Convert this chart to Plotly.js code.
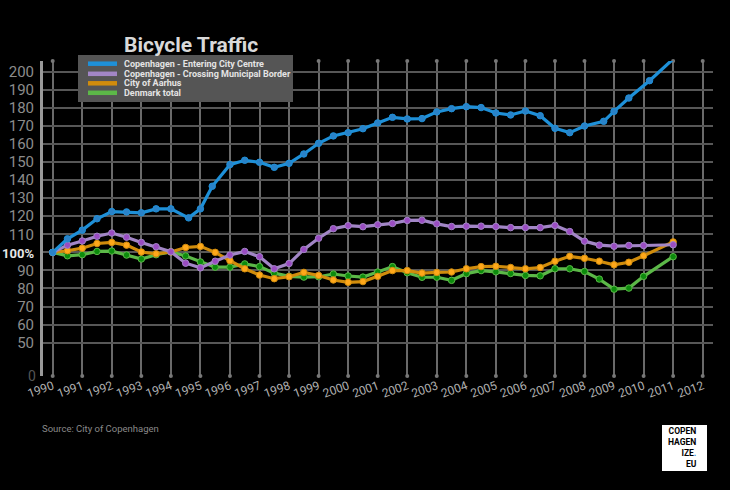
<!DOCTYPE html>
<html>
<head>
<meta charset="utf-8">
<script src="https://cdn.plot.ly/plotly-3.0.1.min.js"></script>
<style>
  html, body { margin: 0; padding: 0; background: #000; }
  #plot { width: 730px; height: 490px; }
</style>
</head>
<body>
<div id="plot"></div>
<script>
// half-year readings, 1990 = 100
var halfYears = [1990, 1990.5, 1991, 1991.5, 1992, 1992.5, 1993, 1993.5, 1994, 1994.5,
  1995, 1995.5, 1996, 1996.5, 1997, 1997.5, 1998, 1998.5, 1999, 1999.5,
  2000, 2000.5, 2001, 2001.5, 2002, 2002.5, 2003, 2003.5, 2004, 2004.5,
  2005, 2005.5, 2006, 2006.5, 2007, 2007.5, 2008, 2008.5, 2009, 2009.5,
  2010, 2011];
var centreYears = [1990, 1990.5, 1991, 1991.5, 1992, 1992.5, 1993, 1993.5, 1994, 1994.6,
  1995, 1995.4, 1996, 1996.5, 1997, 1997.5, 1998, 1998.5, 1999, 1999.5,
  2000, 2000.5, 2001, 2001.5, 2002, 2002.5, 2003, 2003.5, 2004, 2004.5,
  2005, 2005.5, 2006, 2006.5, 2007, 2007.5, 2008, 2008.65, 2009, 2009.5,
  2010.2, 2011];

var centre = [100, 107.5, 112.3, 118.6, 122.6, 122.4, 121.9, 124.1, 124.1, 119.1,
  124.1, 136.6, 148.6, 151, 149.9, 147.1, 149.3, 154.5, 160.4, 164.5,
  166.3, 168.5, 171.7, 174.8, 173.9, 174.1, 177.8, 179.6, 180.7, 180.2,
  177.2, 176.1, 178.3, 175.7, 168.7, 166.3, 170, 172.6, 178.1, 185.5,
  195.1, 207.1];
var border = [100, 104, 106.3, 108.9, 110.7, 108.4, 105.5, 103.1, 100.3, 94,
  91.4, 95.1, 98.5, 100.5, 97.6, 90.9, 93.8, 101.6, 107.8, 113.1,
  114.8, 114.2, 115.3, 116, 117.7, 117.8, 115.8, 114.3, 114.5, 114.5,
  114.3, 113.7, 113.7, 113.7, 114.9, 111.5, 106.2, 104, 103.4, 103.8,
  103.8, 104.2];
var aarhus = [100, 100.9, 102.3, 104.9, 105.5, 104, 100.2, 99.2, 100.2, 102.7,
  103.3, 100, 95.4, 90.9, 87.4, 85.4, 86.5, 88.9, 87.2, 84.7,
  83.4, 83.8, 86.7, 89.9, 89.9, 88.5, 88.9, 89.1, 90.9, 92.1,
  92.3, 91.6, 90.9, 91.6, 95.1, 97.8, 96.7, 95.1, 93.1, 94.5,
  98.1, 105.8];
var denmark = [100, 98.1, 98.7, 100.5, 100.7, 98.5, 96.3, 98.7, 100.3, 98,
  94.7, 91.8, 91.8, 93.6, 92.1, 88.5, 86.7, 86.3, 86.5, 88,
  86.9, 86.3, 89.1, 92.1, 88.7, 86.2, 86.2, 84.5, 88.2, 89.9,
  89.2, 88.3, 87.2, 87, 90.9, 90.9, 89.4, 85.2, 79.6, 80.2,
  86.7, 97.6];

var seriesNames = ['Copenhagen - Entering City Centre', 'Copenhagen - Crossing Municipal Border',
  'City of Aarhus', 'Denmark total'];
var lineColors = ['#1e90d8', '#a286c6', '#d08c0c', '#5cb848'];
var dotColors = ['#2a82c8', '#9a4cc2', '#ffa81a', '#0c8c0c'];

var tickYears = [1990, 1991, 1992, 1993, 1994, 1995, 1996, 1997, 1998, 1999, 2000, 2001,
  2002, 2003, 2004, 2005, 2006, 2007, 2008, 2009, 2010, 2011, 2012];
var yTicks = [50, 60, 70, 80, 90, 100, 110, 120, 130, 140, 150, 160, 170, 180, 190, 200];

var yMin = 31.5, yMax = 206;

function line(x, y, i) {
  return {
    x: x, y: y, name: seriesNames[i], type: 'scatter', mode: 'lines+markers',
    line: {color: lineColors[i], width: 3.2},
    marker: {color: dotColors[i], size: 6.5, line: {color: lineColors[i], width: 1}},
    cliponaxis: false, showlegend: false, hoverinfo: 'x+y'
  };
}

// little dots at both ends of each vertical grid line
var gridDots = {
  x: tickYears.concat(tickYears),
  y: tickYears.map(function () { return yMax; }).concat(tickYears.map(function () { return yMin; })),
  type: 'scatter', mode: 'markers', marker: {color: '#777', size: 4},
  cliponaxis: false, showlegend: false, hoverinfo: 'skip'
};

var data = [gridDots, line(halfYears, denmark, 3), line(halfYears, aarhus, 2),
  line(halfYears, border, 1), line(centreYears, centre, 0)];

var yText = yTicks.map(function (v) {
  return v === 100 ? '<span style="color:#e6e6e6;font-weight:bold;font-size:13px">100%</span>' : String(v);
});

// hand-built legend box (the reference packs entries tighter than plotly's legend)
var W = 730 - 43 - 17, H = 315;
function px(x) { return (x - 43) / W; }
function py(y) { return (376 - y) / H; }

var shapes = [{
  type: 'rect', xref: 'paper', yref: 'paper', x0: px(78), x1: px(293), y0: py(102), y1: py(55),
  fillcolor: '#555555', line: {width: 0}, layer: 'above'
}];
var annotations = [];
var rowY = [63.7, 73.8, 83.3, 92.8];
seriesNames.forEach(function (n, i) {
  shapes.push({
    type: 'line', xref: 'paper', yref: 'paper', x0: px(88), x1: px(117), y0: py(rowY[i]), y1: py(rowY[i]),
    line: {color: lineColors[i], width: 4.5}, layer: 'above'
  });
  annotations.push({
    xref: 'paper', yref: 'paper', x: px(122), y: py(rowY[i]), xanchor: 'left', yanchor: 'middle',
    text: '<b>' + n + '</b>', showarrow: false, font: {family: 'Roboto', size: 9, color: '#e4e4e4'}
  });
});

// y axis arrow and the "0" label below the break
annotations.push({
  xref: 'paper', yref: 'y', x: 0, y: yMax + 2.5, ax: 0, ay: 24, axref: 'pixel', ayref: 'pixel',
  text: '', showarrow: true, arrowhead: 2, arrowsize: 1, arrowwidth: 3, arrowcolor: '#999'
});
annotations.push({
  xref: 'paper', yref: 'y', x: -0.008, y: yMin, xanchor: 'right', yanchor: 'middle',
  text: '0', showarrow: false, font: {family: 'Roboto', size: 14, color: '#555'}
});
annotations.push({
  xref: 'paper', yref: 'paper', x: px(40), y: py(428), xanchor: 'left', yanchor: 'middle',
  text: 'Source: City of Copenhagen', showarrow: false,
  font: {family: 'Roboto', size: 9.5, color: '#8a8a8a'}
});

// logo box
shapes.push({
  type: 'rect', xref: 'paper', yref: 'paper', x0: px(662), x1: px(707), y0: py(471), y1: py(425),
  fillcolor: '#ffffff', line: {width: 0}
});
annotations.push({
  xref: 'paper', yref: 'paper', x: px(699), y: py(447), xanchor: 'right', yanchor: 'middle',
  align: 'right', showarrow: false,
  text: '<b>COPEN<br>HAGEN<br>IZE<span style="color:#1e90d8">.</span><br>EU</b>',
  font: {family: 'Roboto', size: 8.5, color: '#000'}
});

var layout = {
  width: 730, height: 490,
  paper_bgcolor: '#000', plot_bgcolor: '#000',
  margin: {l: 43, r: 17, t: 61, b: 114},
  title: {
    text: '<b>Bicycle Traffic</b>', x: 124 / 730, xanchor: 'left', y: 1 - 45 / 490, yanchor: 'middle',
    font: {family: 'Roboto', size: 21, color: '#d9d9d9'}
  },
  xaxis: {
    range: [1989.672, 2012.349], tickvals: tickYears, ticktext: tickYears.map(String),
    tickangle: -20, showgrid: true, gridcolor: '#6a6a6a', gridwidth: 1.5,
    zeroline: false, showline: false, ticks: '',
    tickfont: {family: 'Roboto', size: 12, color: '#b0b0b0'}
  },
  yaxis: {
    range: [yMin, yMax], tickvals: yTicks, ticktext: yText,
    showgrid: true, gridcolor: '#575757', gridwidth: 1.5, zeroline: false,
    showline: true, linecolor: '#999', linewidth: 3, ticks: '', ticklabelstandoff: 3,
    tickfont: {family: 'Roboto', size: 15, color: '#8c8c8c'}
  },
  shapes: shapes,
  annotations: annotations
};

Plotly.newPlot('plot', data, layout, {displayModeBar: false});
</script>
</body>
</html>
